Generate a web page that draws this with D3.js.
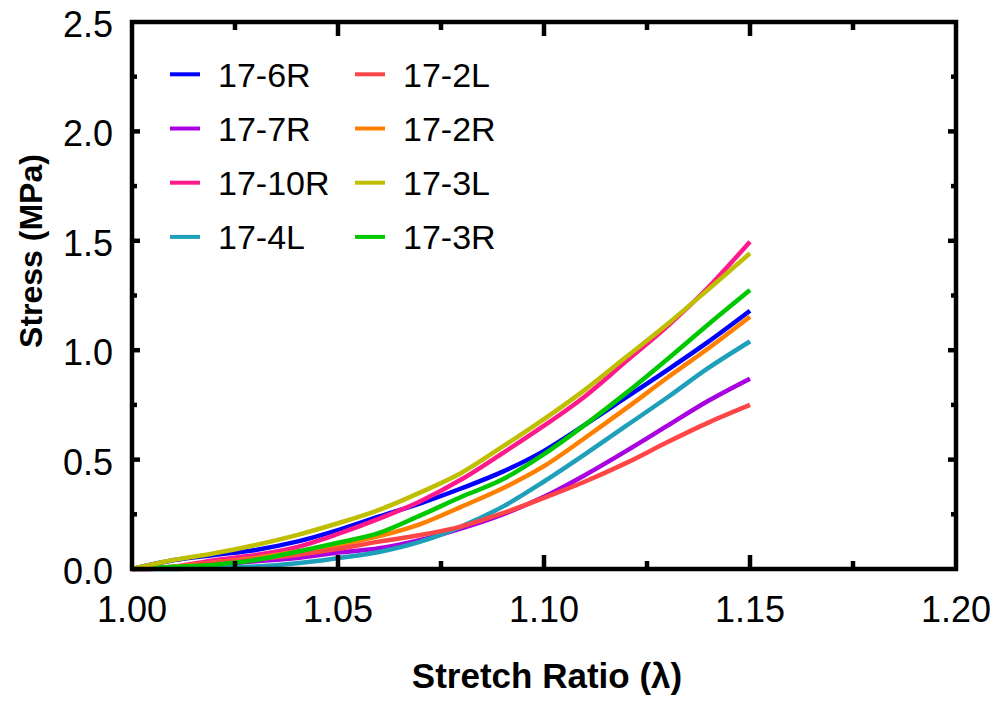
<!DOCTYPE html>
<html>
<head>
<meta charset="utf-8">
<script src="https://cdn.jsdelivr.net/npm/d3@7"></script>
<style>
  html, body { margin: 0; padding: 0; background: #fff; }
  text { font-family: "Liberation Sans", Arial, sans-serif; fill: #000; }
</style>
</head>
<body>
<svg id="chart" width="1000" height="709"></svg>
<script>
// ---- data ----
const stretch = [1.00, 1.01, 1.02, 1.03, 1.04, 1.05, 1.06, 1.07, 1.08, 1.09, 1.10, 1.11, 1.12, 1.13, 1.14, 1.15];
const s17_6R  = [0, 0.040, 0.064, 0.087, 0.125, 0.178, 0.240, 0.300, 0.369, 0.445, 0.540, 0.660, 0.785, 0.910, 1.040, 1.180];
const s17_7R  = [0, 0.005, 0.020, 0.035, 0.050, 0.075, 0.095, 0.133, 0.186, 0.250, 0.330, 0.430, 0.540, 0.655, 0.770, 0.870];
const s17_10R = [0, 0.010, 0.040, 0.064, 0.100, 0.160, 0.230, 0.310, 0.410, 0.530, 0.655, 0.790, 0.950, 1.110, 1.290, 1.496];
const s17_4L  = [0, 0.000, 0.005, 0.011, 0.026, 0.050, 0.078, 0.125, 0.195, 0.285, 0.400, 0.525, 0.655, 0.785, 0.920, 1.040];
const s17_2L  = [0, 0.005, 0.030, 0.045, 0.064, 0.092, 0.125, 0.155, 0.195, 0.255, 0.325, 0.400, 0.485, 0.580, 0.670, 0.750];
const s17_2R  = [0, 0.010, 0.030, 0.050, 0.080, 0.110, 0.150, 0.205, 0.285, 0.369, 0.470, 0.600, 0.735, 0.875, 1.010, 1.153];
const s17_3L  = [0, 0.041, 0.072, 0.110, 0.155, 0.209, 0.270, 0.350, 0.440, 0.560, 0.685, 0.820, 0.970, 1.120, 1.280, 1.443];
const s17_3R  = [0, 0.010, 0.020, 0.041, 0.079, 0.120, 0.165, 0.245, 0.330, 0.410, 0.525, 0.660, 0.805, 0.960, 1.120, 1.275];

const seriesNames  = ["17-6R", "17-7R", "17-10R", "17-4L", "17-2L", "17-2R", "17-3L", "17-3R"];
const seriesValues = [s17_6R, s17_7R, s17_10R, s17_4L, s17_2L, s17_2R, s17_3L, s17_3R];
const seriesColors = ["#0000ff", "#a800e0", "#ff1a8c", "#1e9fba", "#ff4646", "#ff8000", "#bfbf00", "#00c800"];

const xTicks = [1.00, 1.05, 1.10, 1.15, 1.20];
const xMinor = [1.025, 1.075, 1.125, 1.175];
const yTicks = [0.0, 0.5, 1.0, 1.5, 2.0, 2.5];
const yMinor = [0.25, 0.75, 1.25, 1.75, 2.25];

// ---- layout ----
const L = 132, R = 956, T = 22, B = 569;
const svg = d3.select("#chart");
const x = d3.scaleLinear().domain([1.0, 1.2]).range([L, R]);
const y = d3.scaleLinear().domain([0, 2.5]).range([B, T]);

// ---- lines ----
const line = d3.line()
  .x((d, i) => x(stretch[i]))
  .y(d => y(d))
  .curve(d3.curveMonotoneX);

const drawOrder = [0, 1, 3, 2, 5, 4, 7, 6];
const plot = svg.append("g");
drawOrder.forEach(k => {
  plot.append("path")
    .datum(seriesValues[k])
    .attr("d", line)
    .attr("fill", "none")
    .attr("stroke", seriesColors[k])
    .attr("stroke-width", 4.5)
    .attr("stroke-linejoin", "round");
});

// ---- frame & ticks ----
const axes = svg.append("g");
axes.append("rect")
  .attr("x", L).attr("y", T).attr("width", R - L).attr("height", B - T)
  .attr("fill", "none").attr("stroke", "#000").attr("stroke-width", 4.5);

function vTick(v, len) {
  axes.append("line").attr("x1", x(v)).attr("x2", x(v)).attr("y1", B).attr("y2", B - len)
    .attr("stroke", "#000").attr("stroke-width", 4.5);
  axes.append("line").attr("x1", x(v)).attr("x2", x(v)).attr("y1", T).attr("y2", T + len)
    .attr("stroke", "#000").attr("stroke-width", 4.5);
}
function hTick(v, len) {
  axes.append("line").attr("x1", L).attr("x2", L + len).attr("y1", y(v)).attr("y2", y(v))
    .attr("stroke", "#000").attr("stroke-width", 4.5);
  axes.append("line").attr("x1", R).attr("x2", R - len).attr("y1", y(v)).attr("y2", y(v))
    .attr("stroke", "#000").attr("stroke-width", 4.5);
}
xTicks.slice(1, -1).forEach(v => vTick(v, 14));
xMinor.forEach(v => vTick(v, 8));
yTicks.slice(1, -1).forEach(v => hTick(v, 8));
yMinor.forEach(v => hTick(v, 5));

// tick labels
axes.selectAll(".xl").data(xTicks).enter().append("text")
  .attr("x", d => x(d)).attr("y", 622)
  .attr("text-anchor", "middle").attr("font-size", 36)
  .text(d => d.toFixed(2));
axes.selectAll(".yl").data(yTicks).enter().append("text")
  .attr("x", 113).attr("y", d => y(d) + 15)
  .attr("text-anchor", "end").attr("font-size", 36)
  .text(d => d.toFixed(1));

// axis titles
svg.append("text")
  .attr("x", 547).attr("y", 688)
  .attr("text-anchor", "middle").attr("font-size", 35).attr("font-weight", "bold")
  .text("Stretch Ratio (λ)");
svg.append("text")
  .attr("transform", "translate(42,251) rotate(-90)")
  .attr("text-anchor", "middle").attr("font-size", 32).attr("font-weight", "bold")
  .text("Stress (MPa)");

// ---- legend ----
const legend = svg.append("g");
seriesNames.forEach((name, k) => {
  const col = Math.floor(k / 4), row = k % 4;
  const sx = col === 0 ? 170 : 355;
  const sy = 74.3 + row * 54.2;
  legend.append("line")
    .attr("x1", sx).attr("x2", sx + 30).attr("y1", sy).attr("y2", sy)
    .attr("stroke", seriesColors[k]).attr("stroke-width", 4);
  legend.append("text")
    .attr("x", sx + 48).attr("y", sy + 12.4)
    .attr("font-size", 34)
    .text(name);
});
</script>
</body>
</html>
